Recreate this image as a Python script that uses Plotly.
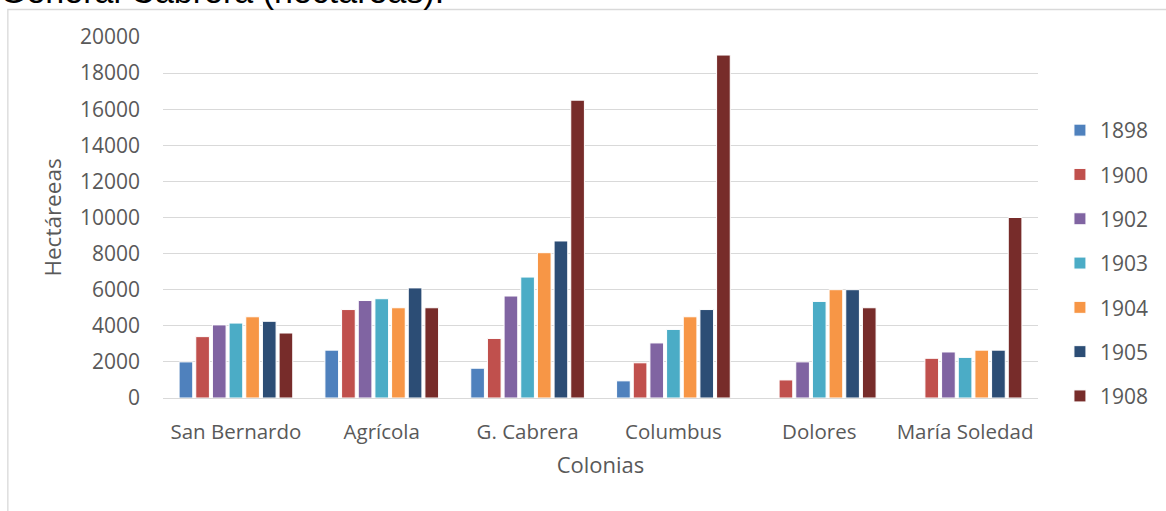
import plotly.graph_objects as go

categories = ["San Bernardo", "Agrícola", "G. Cabrera", "Columbus", "Dolores", "María Soledad"]
years = ["1898", "1900", "1902", "1903", "1904", "1905", "1908"]
v1898 = [2000, 2650, 1650, 950, None, None]
v1900 = [3400, 4900, 3300, 1950, 1000, 2200]
v1902 = [4050, 5400, 5650, 3050, 2000, 2550]
v1903 = [4150, 5500, 6700, 3800, 5350, 2250]
v1904 = [4500, 5000, 8050, 4500, 6000, 2650]
v1905 = [4250, 6100, 8700, 4900, 6000, 2650]
v1908 = [3600, 5000, 16500, 19000, 5000, 10000]
series = [v1898, v1900, v1902, v1903, v1904, v1905, v1908]
colors = ["#4F81BD", "#C0504D", "#8064A2", "#4BACC6", "#F79646", "#2C4D75", "#772C2A"]

W, H = 1166, 511
L, R, T, B = 163, 126, 37, 113
pw, ph = W - L - R, H - T - B

def px(x):
    return (x - L) / pw

def py(y):
    return (H - B - y) / ph

fig = go.Figure()
for i, (yr, vals, c) in enumerate(zip(years, series, colors)):
    fig.add_trace(go.Bar(
        x=categories, y=vals, name=yr,
        marker=dict(color=c, line=dict(color="white", width=1)),
        legendgroup=yr,
    ))

font_fam = "'Open Sans', sans-serif"
fig.update_layout(
    width=W, height=H,
    margin=dict(l=L, r=R, t=T, b=B, pad=0),
    paper_bgcolor="white", plot_bgcolor="white",
    barmode="group", bargap=0.2, bargroupgap=0.18,
    font=dict(family=font_fam, color="#595959", size=21),
    showlegend=True,
    legend=dict(
        x=px(1062), y=py(110), xanchor="left", yanchor="top",
        font=dict(size=21, color="#595959", family=font_fam),
        tracegroupgap=14, traceorder="grouped",
        itemwidth=30,
    ),
    xaxis=dict(
        showgrid=False, showline=False, ticks="",
        tickfont=dict(size=20.5, color="#595959"),
        ticklabelstandoff=19,
        title=dict(text="Colonias", font=dict(size=22, color="#595959"), standoff=14),
    ),
    yaxis=dict(
        range=[0, 20000], dtick=2000, showgrid=True, gridcolor="#D9D9D9", gridwidth=1.3,
        zeroline=True, zerolinecolor="#D9D9D9", zerolinewidth=1.3,
        showline=False, ticks="", tickformat="d",
        tickfont=dict(size=21, color="#595959"),
        ticklabelstandoff=22,
        title=dict(text="Hectáreeas", font=dict(size=22.5, color="#595959"), standoff=12),
    ),
    shapes=[dict(
        type="rect", xref="paper", yref="paper",
        x0=px(7.5), x1=px(1300), y0=py(600), y1=py(9.5),
        line=dict(color="#D9D9D9", width=1.3), fillcolor="rgba(0,0,0,0)", layer="below",
    )],
    annotations=[dict(
        text="General Cabrera (hectáreas):", xref="paper", yref="paper",
        x=px(-2), y=py(12), xanchor="left", yanchor="bottom", showarrow=False,
        font=dict(family="Liberation Sans, Arial, sans-serif", size=34, color="#000000"),
    )],
)

fig.write_html("out.html")
